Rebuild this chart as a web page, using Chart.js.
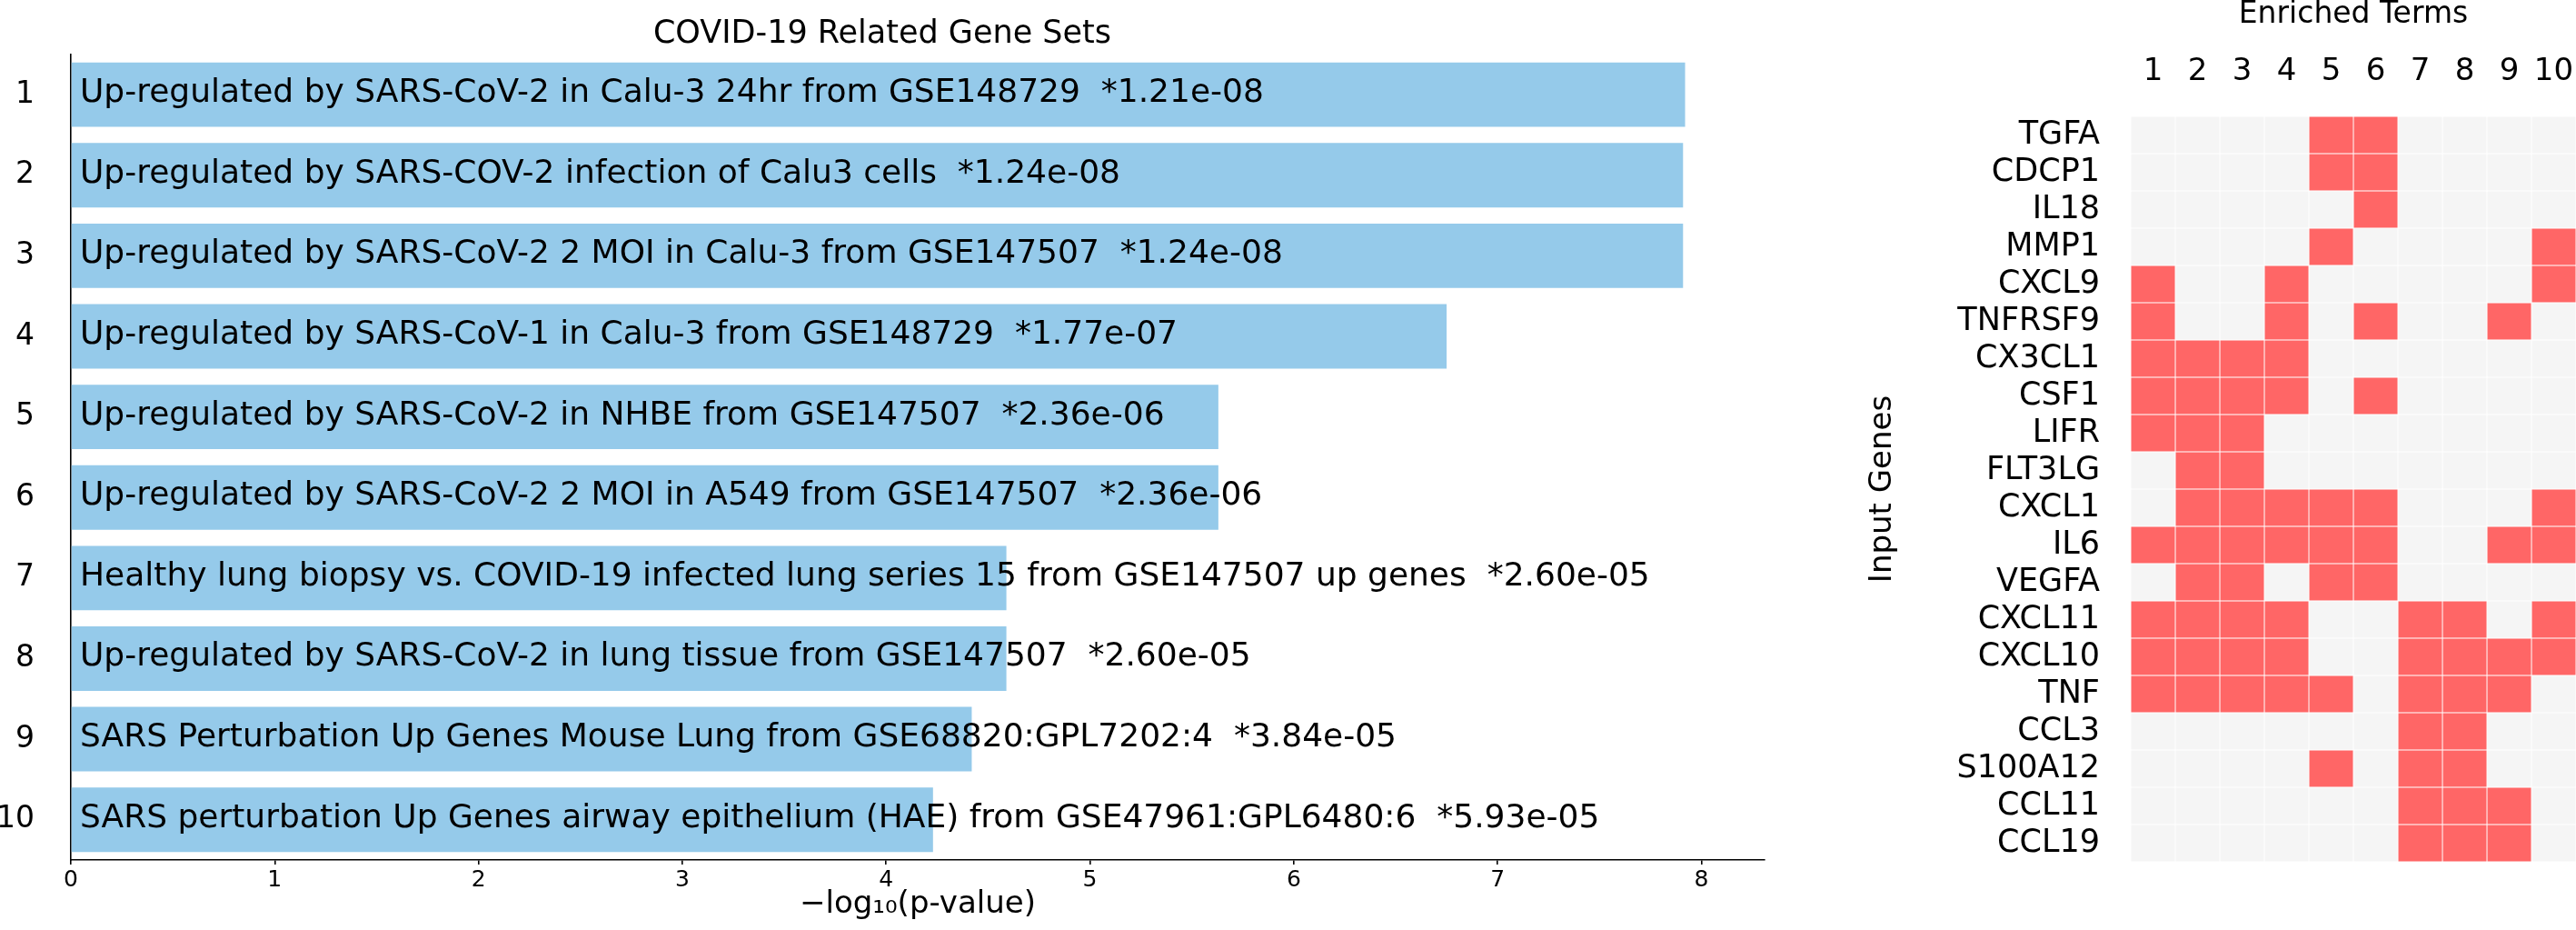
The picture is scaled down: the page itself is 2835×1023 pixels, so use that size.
<!DOCTYPE html>
<html>
<head>
<meta charset="utf-8">
<script src="https://cdn.jsdelivr.net/npm/chart.js@4.4.1/dist/chart.umd.min.js"></script>
<style>
  html, body { margin: 0; padding: 0; background: #fff; overflow: hidden; }
  #wrap { position: relative; width: 2835px; height: 1023px; }
  canvas { position: absolute; top: 0; }
  #barChart { left: 0; }
  #heatChart { left: 2030px; }
</style>
</head>
<body>
<div id="wrap">
  <canvas id="barChart" width="2020" height="1023"></canvas>
  <canvas id="heatChart" width="805" height="1023"></canvas>
</div>
<script>
// Bar chart data (left panel)
const termIds = ['1', '2', '3', '4', '5', '6', '7', '8', '9', '10'];
const termNames = [
  'Up-regulated by SARS-CoV-2 in Calu-3 24hr from GSE148729',
  'Up-regulated by SARS-COV-2 infection of Calu3 cells',
  'Up-regulated by SARS-CoV-2 2 MOI in Calu-3 from GSE147507',
  'Up-regulated by SARS-CoV-1 in Calu-3 from GSE148729',
  'Up-regulated by SARS-CoV-2 in NHBE from GSE147507',
  'Up-regulated by SARS-CoV-2 2 MOI in A549 from GSE147507',
  'Healthy lung biopsy vs. COVID-19 infected lung series 15 from GSE147507 up genes',
  'Up-regulated by SARS-CoV-2 in lung tissue from GSE147507',
  'SARS Perturbation Up Genes Mouse Lung from GSE68820:GPL7202:4',
  'SARS perturbation Up Genes airway epithelium (HAE) from GSE47961:GPL6480:6'
];
const pValueLabels = ['1.21e-08', '1.24e-08', '1.24e-08', '1.77e-07', '2.36e-06',
                      '2.36e-06', '2.60e-05', '2.60e-05', '3.84e-05', '5.93e-05'];
const scores = [7.92, 7.91, 7.91, 6.75, 5.63, 5.63, 4.59, 4.59, 4.42, 4.23];
const scoreAxisMax = 8.31;

// Heatmap data (right panel): enriched term numbers for each input gene
const genes = ['TGFA', 'CDCP1', 'IL18', 'MMP1', 'CXCL9', 'TNFRSF9', 'CX3CL1', 'CSF1', 'LIFR', 'FLT3LG',
               'CXCL1', 'IL6', 'VEGFA', 'CXCL11', 'CXCL10', 'TNF', 'CCL3', 'S100A12', 'CCL11', 'CCL19'];
const geneTerms = [
  [5, 6], [5, 6], [6], [5, 10], [1, 4, 10], [1, 4, 6, 9], [1, 2, 3, 4], [1, 2, 3, 4, 6],
  [1, 2, 3], [2, 3], [2, 3, 4, 5, 6, 10], [1, 2, 3, 4, 5, 6, 9, 10], [2, 3, 5, 6],
  [1, 2, 3, 4, 7, 8, 10], [1, 2, 3, 4, 7, 8, 9, 10], [1, 2, 3, 4, 5, 7, 8, 9],
  [7, 8], [5, 7, 8], [7, 8, 9], [7, 8, 9]
];

const FONT = 'DejaVu Sans';
const BAR_COLOR = '#95caea';
const HIT_COLOR = '#ff6666';
const MISS_COLOR = '#f5f5f5';

Chart.defaults.font.family = FONT;
Chart.defaults.color = '#000';

// Draw the term name + p-value inside each bar
const barLabels = {
  id: 'barLabels',
  afterDatasetsDraw(chart) {
    const { ctx, scales: { x } } = chart;
    const meta = chart.getDatasetMeta(0);
    ctx.save();
    ctx.font = `36px "${FONT}"`;
    ctx.fillStyle = '#000';
    ctx.textAlign = 'left';
    ctx.textBaseline = 'alphabetic';
    meta.data.forEach((bar, i) => {
      ctx.fillText(`${termNames[i]}  *${pValueLabels[i]}`, x.getPixelForValue(0) + 10, bar.y + 8);
    });
    ctx.restore();
  }
};

new Chart(document.getElementById('barChart'), {
  type: 'bar',
  data: {
    labels: termIds,
    datasets: [{
      data: scores,
      backgroundColor: BAR_COLOR,
      borderWidth: 0,
      barPercentage: 0.8,
      categoryPercentage: 1.0
    }]
  },
  options: {
    indexAxis: 'y',
    responsive: false,
    animation: false,
    devicePixelRatio: 1,
    layout: { padding: { left: 0, right: 78, top: 0, bottom: 0 } },
    plugins: {
      legend: { display: false },
      tooltip: { enabled: false },
      title: {
        display: true,
        text: 'COVID-19 Related Gene Sets',
        color: '#000',
        font: { size: 35, weight: 'normal', lineHeight: 0.914 },
        padding: { top: 0, bottom: 6.2 }
      }
    },
    scales: {
      y: {
        type: 'category',
        grid: { display: false, drawTicks: false },
        border: { display: true, color: '#000', width: 1.6 },
        ticks: { font: { size: 33 }, color: '#000', padding: 40 },
        afterFit: (scale) => { scale.width = 78; }
      },
      x: {
        type: 'linear',
        min: 0,
        max: scoreAxisMax,
        grid: { display: true, drawOnChartArea: false, drawTicks: true, tickLength: 5, color: '#000', lineWidth: 1.6 },
        border: { display: true, color: '#000', width: 1.6 },
        ticks: { stepSize: 1, includeBounds: false, font: { size: 25 }, color: '#000', padding: 2 },
        title: {
          display: true,
          text: '\u2212log\u2081\u2080(p-value)',
          color: '#000',
          font: { size: 34, lineHeight: 1 },
          padding: { top: 0, bottom: 11 }
        },
        afterFit: (scale) => { scale.height = 77; }
      }
    }
  },
  plugins: [barLabels]
});

// Heatmap: one stacked dataset per enriched term, one unit cell per gene
new Chart(document.getElementById('heatChart'), {
  type: 'bar',
  data: {
    labels: genes,
    datasets: termIds.map((term, j) => ({
      label: term,
      data: genes.map(() => 1),
      backgroundColor: geneTerms.map(list => list.includes(j + 1) ? HIT_COLOR : MISS_COLOR),
      borderColor: '#fff',
      borderWidth: 0.8,
      borderSkipped: false,
      barPercentage: 1.0,
      categoryPercentage: 1.0
    }))
  },
  options: {
    indexAxis: 'y',
    responsive: false,
    animation: false,
    devicePixelRatio: 1,
    layout: { padding: { left: 0, right: 0, top: 0, bottom: 75 } },
    plugins: {
      legend: { display: false },
      tooltip: { enabled: false }
    },
    scales: {
      y: {
        type: 'category',
        stacked: true,
        grid: { display: false, drawTicks: false },
        border: { display: false },
        ticks: { font: { size: 35 }, color: '#000', padding: 34, autoSkip: false },
        title: {
          display: true,
          text: 'Input Genes',
          color: '#000',
          font: { size: 34, lineHeight: 1 },
          padding: { top: 25, bottom: 0 }
        },
        afterFit: (scale) => { scale.width = 315; }
      },
      x: {
        type: 'linear',
        position: 'top',
        stacked: true,
        min: 0,
        max: termIds.length,
        // tick marks hidden, their length only spaces the labels from the cells
        grid: { display: false, drawTicks: true, tickLength: 28 },
        border: { display: false },
        afterBuildTicks: (scale) => {
          scale.ticks = termIds.map((t, i) => ({ value: i + 0.5 }));
        },
        ticks: {
          font: { size: 34 },
          color: '#000',
          padding: 0,
          autoSkip: false,
          maxRotation: 0,
          callback: (value) => termIds[Math.floor(value)]
        },
        title: {
          display: true,
          text: 'Enriched Terms',
          color: '#000',
          font: { size: 33, lineHeight: 1 },
          padding: { top: 0, bottom: 0 }
        },
        afterFit: (scale) => { scale.height = 128; }
      }
    }
  }
});
</script>
</body>
</html>
